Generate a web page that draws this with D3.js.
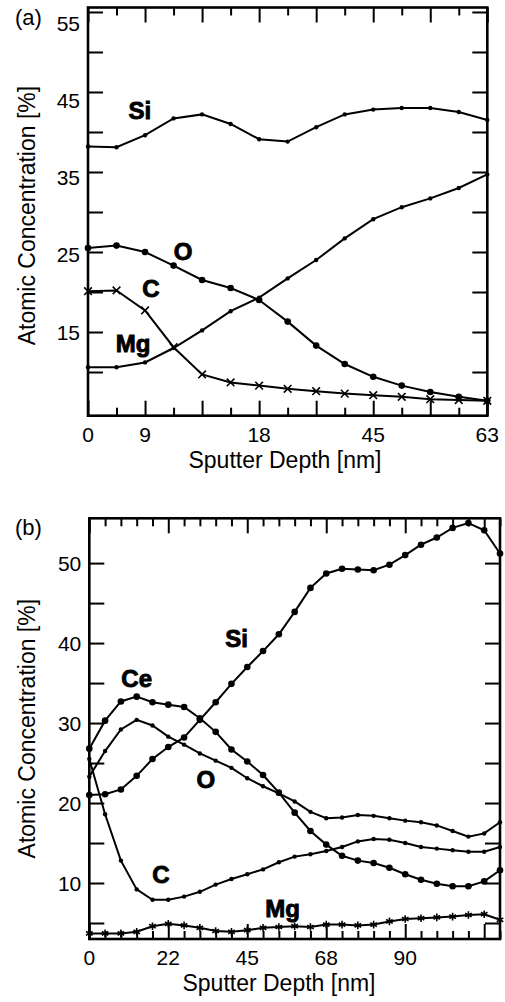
<!DOCTYPE html>
<html>
<head>
<script src="https://d3js.org/d3.v7.min.js"></script>
<style>
body { margin: 0; background: #fff; }
svg { display: block; }
svg text { font-family: "Liberation Sans", Arial, Helvetica, sans-serif; fill: #000; }
</style>
</head>
<body>
<div id="root"></div>
<script>
// ---- panel (a): 15 sputter steps ----
let a_si = [38.2, 38.1, 39.6, 41.7, 42.2, 41.0, 39.1, 38.8, 40.6, 42.2, 42.8, 43.0, 43.0, 42.5, 41.5];
let a_o  = [25.5, 25.8, 25.0, 23.3, 21.5, 20.5, 19.0, 16.3, 13.3, 11.0, 9.4, 8.3, 7.5, 6.9, 6.4];
let a_c  = [20.1, 20.2, 17.7, 13.1, 9.7, 8.7, 8.3, 7.9, 7.6, 7.3, 7.1, 6.9, 6.6, 6.5, 6.4];
let a_mg = [10.6, 10.6, 11.2, 13.0, 15.2, 17.6, 19.3, 21.7, 24.0, 26.7, 29.1, 30.6, 31.7, 33.0, 34.7];
let a_x_tick_steps = [0, 2, 6, 10, 14];
let a_x_tick_labels = ['0', '9', '18', '45', '63'];
let a_y_labels = [15, 25, 35, 45, 55];

// ---- panel (b): 27 sputter steps ----
let b_si = [21.0, 21.1, 21.7, 23.4, 25.5, 27.0, 28.2, 30.4, 32.6, 34.9, 37.0, 39.0, 41.1, 43.9, 46.9, 48.7, 49.3, 49.2, 49.1, 49.8, 51.0, 52.3, 53.2, 54.4, 55.0, 54.1, 51.2];
let b_ce = [26.8, 30.3, 32.7, 33.3, 32.6, 32.3, 32.0, 30.6, 28.9, 26.7, 25.2, 23.5, 21.3, 18.8, 16.5, 14.8, 13.4, 12.8, 12.5, 11.9, 11.1, 10.4, 9.9, 9.6, 9.6, 10.2, 11.6];
let b_o  = [23.3, 26.5, 29.2, 30.4, 29.7, 28.3, 27.3, 26.2, 25.3, 24.4, 23.1, 22.1, 21.2, 20.2, 18.9, 18.1, 18.2, 18.5, 18.4, 18.1, 17.8, 17.6, 17.2, 16.5, 15.8, 16.2, 17.6];
let b_c  = [25.5, 18.6, 12.8, 9.2, 7.9, 7.9, 8.3, 8.9, 9.8, 10.5, 11.1, 11.7, 12.6, 13.3, 13.6, 14.0, 14.5, 15.2, 15.5, 15.4, 15.0, 14.5, 14.3, 14.1, 13.9, 13.9, 14.5];
let b_mg = [3.7, 3.7, 3.7, 3.9, 4.6, 4.9, 4.7, 4.4, 4.0, 3.9, 4.1, 4.4, 4.5, 4.6, 4.5, 4.8, 4.8, 4.7, 4.8, 5.2, 5.5, 5.6, 5.7, 5.8, 6.0, 6.1, 5.4];
let b_x_tick_steps = [0, 5, 10, 15, 20];
let b_x_tick_labels = ['0', '22', '45', '68', '90'];
let b_y_labels = [10, 20, 30, 40, 50];

let svg = d3.select('#root').append('svg')
    .attr('width', 505)
    .attr('height', 1002);

let draw_panel = cfg => {
    let x = d3.scaleLinear().domain([0, cfg.steps - 1]).range([cfg.left, cfg.right]);
    let y = d3.scaleLinear().domain(cfg.y_domain).range([cfg.bottom, cfg.top]);
    // tick labels of the left axis sit on their own (slightly squeezed) scale in (a)
    let y_label = d3.scaleLinear().domain(d3.extent(cfg.y_labels))
        .range([y(d3.min(cfg.y_labels)), y(d3.max(cfg.y_labels)) + cfg.label_shift]);

    let g = svg.append('g');
    let all_steps = d3.range(cfg.steps);
    let major = all_steps.filter(d => d % cfg.major_every === 0);
    let minor = all_steps.filter(d => d % cfg.major_every !== 0);
    let y_ticks = d3.range(cfg.y_tick_min, cfg.y_tick_max + 1, 5);
    let blank = () => '';

    let axes = [
        [d3.axisBottom(x).tickValues(major).tickSize(-15), `translate(0,${cfg.bottom})`],
        [d3.axisBottom(x).tickValues(minor).tickSize(-8), `translate(0,${cfg.bottom})`],
        [d3.axisTop(x).tickValues(major).tickSize(-15), `translate(0,${cfg.top})`],
        [d3.axisTop(x).tickValues(minor).tickSize(-8), `translate(0,${cfg.top})`],
        [d3.axisLeft(y).tickValues(y_ticks).tickSize(-15), `translate(${cfg.left},0)`],
        [d3.axisRight(y).tickValues(y_ticks).tickSize(-15), `translate(${cfg.right},0)`]
    ];
    axes.forEach(([axis, tr]) => {
        let a = g.append('g').attr('transform', tr).call(axis.tickFormat(blank));
        a.select('.domain').remove();
        a.selectAll('line').attr('stroke', '#000').attr('stroke-width', 2);
    });

    g.append('rect')
        .attr('x', cfg.left)
        .attr('y', cfg.top)
        .attr('width', cfg.right - cfg.left)
        .attr('height', cfg.bottom - cfg.top)
        .attr('fill', 'none')
        .attr('stroke', '#000')
        .attr('stroke-width', 2.6);

    // tick labels
    g.selectAll('text.xl')
        .data(cfg.x_tick_steps)
        .join('text')
        .attr('class', 'xl')
        .attr('x', d => x(d))
        .attr('y', cfg.bottom + 26)
        .attr('text-anchor', 'middle')
        .attr('font-size', 21)
        .text((d, i) => cfg.x_tick_labels[i]);
    g.selectAll('text.yl')
        .data(cfg.y_labels)
        .join('text')
        .attr('class', 'yl')
        .attr('x', cfg.left - 8)
        .attr('y', d => y_label(d))
        .attr('dy', '0.36em')
        .attr('text-anchor', 'end')
        .attr('font-size', 21)
        .text(d => d);

    // titles
    g.append('text')
        .attr('transform', `translate(35,${(cfg.top + cfg.bottom) / 2 + cfg.y_title_shift}) rotate(-90)`)
        .attr('text-anchor', 'middle')
        .attr('font-size', 23)
        .text('Atomic Concentration [%]');
    g.append('text')
        .attr('x', cfg.x_title_x)
        .attr('y', cfg.bottom + 52)
        .attr('text-anchor', 'middle')
        .attr('font-size', 23)
        .text('Sputter Depth [nm]');
    g.append('text')
        .attr('x', 15)
        .attr('y', cfg.top + 17)
        .attr('font-size', 22)
        .text(cfg.tag);

    // series
    let line = d3.line().x((d, i) => x(i)).y(d => y(d));
    cfg.series.forEach(s => {
        let sg = g.append('g');
        sg.append('path')
            .datum(s.values)
            .attr('d', line)
            .attr('fill', 'none')
            .attr('stroke', '#000')
            .attr('stroke-width', 2);
        if (s.marker === 'big' || s.marker === 'small') {
            sg.selectAll('circle')
                .data(s.values)
                .join('circle')
                .attr('cx', (d, i) => x(i))
                .attr('cy', d => y(d))
                .attr('r', s.marker === 'big' ? 3.3 : 2.2)
                .attr('fill', '#000');
        } else {
            let sym = d3.symbol().type(s.marker === 'times' ? d3.symbolTimes : d3.symbolAsterisk).size(40);
            sg.selectAll('path.m')
                .data(s.values)
                .join('path')
                .attr('class', 'm')
                .attr('transform', (d, i) => `translate(${x(i)},${y(d)})`)
                .attr('d', sym)
                .attr('fill', 'none')
                .attr('stroke', '#000')
                .attr('stroke-width', 1.6);
        }
    });

    // element names
    g.selectAll('text.el')
        .data(cfg.names)
        .join('text')
        .attr('class', 'el')
        .attr('x', d => x(d.step))
        .attr('y', d => y(d.value))
        .attr('dy', '0.36em')
        .attr('text-anchor', 'middle')
        .attr('font-size', 24)
        .attr('font-weight', 'bold')
        .attr('stroke', '#000')
        .attr('stroke-width', 0.9)
        .text(d => d.name);
};

draw_panel({
    tag: '(a)',
    steps: 15,
    left: 88, right: 487.3, top: 7.5, bottom: 415.7,
    y_domain: [4.54, 55.56],
    y_tick_min: 10, y_tick_max: 55,
    y_labels: a_y_labels,
    label_shift: 11.5,
    major_every: 2,
    x_tick_steps: a_x_tick_steps,
    x_tick_labels: a_x_tick_labels,
    y_title_shift: 4,
    x_title_x: 285,
    series: [
        { values: a_si, marker: 'small' },
        { values: a_o, marker: 'big' },
        { values: a_c, marker: 'times' },
        { values: a_mg, marker: 'small' }
    ],
    names: [
        { name: 'Si', step: 1.82, value: 42.7 },
        { name: 'O', step: 3.33, value: 25.1 },
        { name: 'C', step: 2.21, value: 20.4 },
        { name: 'Mg', step: 1.58, value: 13.6 }
    ]
});

draw_panel({
    tag: '(b)',
    steps: 27,
    left: 89.3, right: 500, top: 518.3, bottom: 939,
    y_domain: [3.0, 55.6],
    y_tick_min: 5, y_tick_max: 50,
    y_labels: b_y_labels,
    label_shift: 0,
    major_every: 5,
    x_tick_steps: b_x_tick_steps,
    x_tick_labels: b_x_tick_labels,
    y_title_shift: 0,
    x_title_x: 279,
    series: [
        { values: b_si, marker: 'big' },
        { values: b_ce, marker: 'big' },
        { values: b_o, marker: 'small' },
        { values: b_c, marker: 'small' },
        { values: b_mg, marker: 'asterisk' }
    ],
    names: [
        { name: 'Si', step: 9.33, value: 40.6 },
        { name: 'Ce', step: 3.0, value: 35.6 },
        { name: 'O', step: 7.37, value: 22.9 },
        { name: 'C', step: 4.54, value: 11.05 },
        { name: 'Mg', step: 12.24, value: 6.8 }
    ]
});
</script>
</body>
</html>
